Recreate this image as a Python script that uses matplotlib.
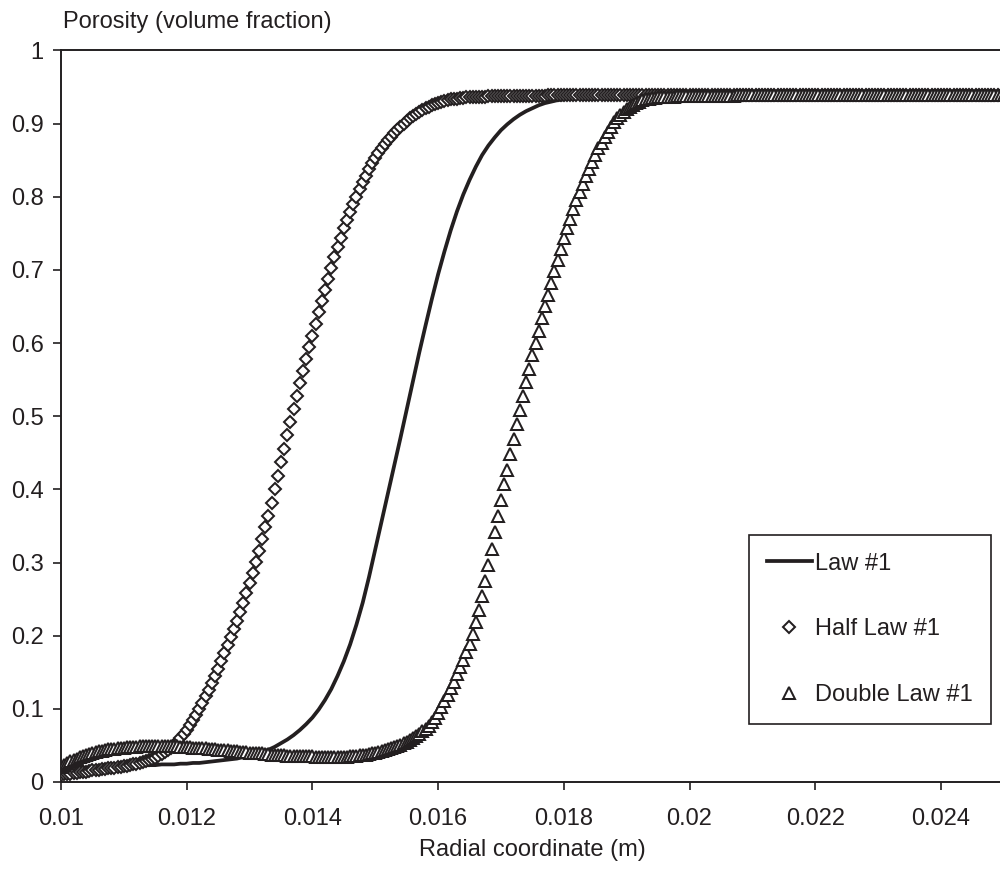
"""Porosity profiles along the radial coordinate for three sintering laws"""

import numpy as np
import matplotlib

matplotlib.use("Agg")
import matplotlib.pyplot as plt

INK = "#231f20"

# radial grid of the marker series (m), 0.01 .. 0.025 every 0.00005
radius = np.linspace(0.01, 0.025, 301)
# radial grid of the solid line (m), every 0.0001
radius_line = np.linspace(0.01, 0.025, 151)

law_1 = [
    0.016, 0.017, 0.018, 0.019, 0.019, 0.020, 0.020, 0.021, 0.021, 0.021,
    0.022, 0.022, 0.022, 0.023, 0.023, 0.023, 0.024, 0.024, 0.024, 0.025,
    0.025, 0.026, 0.026, 0.027, 0.028, 0.029, 0.030, 0.031, 0.032, 0.034,
    0.036, 0.038, 0.041, 0.044, 0.048, 0.053, 0.058, 0.064, 0.071, 0.079,
    0.088, 0.099, 0.112, 0.127, 0.145, 0.165, 0.188, 0.215, 0.245, 0.280,
    0.318, 0.356, 0.394, 0.432, 0.470, 0.509, 0.548, 0.587, 0.624, 0.660,
    0.694, 0.725, 0.754, 0.780, 0.803, 0.823, 0.841, 0.857, 0.870, 0.881,
    0.891, 0.899, 0.906, 0.912, 0.917, 0.921, 0.925, 0.928, 0.930, 0.932,
    0.933, 0.934, 0.935, 0.936, 0.936, 0.937, 0.937, 0.938, 0.938, 0.938,
    0.938, 0.938, 0.938, 0.938, 0.938, 0.939, 0.939, 0.939, 0.939, 0.939,
    0.939, 0.939, 0.939, 0.939, 0.939, 0.939, 0.939, 0.939, 0.939, 0.939,
    0.939, 0.939, 0.939, 0.939, 0.939, 0.939, 0.939, 0.939, 0.939, 0.939,
    0.939, 0.939, 0.939, 0.939, 0.939, 0.939, 0.939, 0.939, 0.939, 0.939,
    0.939, 0.939, 0.939, 0.939, 0.939, 0.939, 0.939, 0.939, 0.939, 0.939,
    0.939, 0.939, 0.939, 0.939, 0.939, 0.939, 0.939, 0.939, 0.939, 0.939,
    0.939,
]

half_law_1 = [
    0.010, 0.0105, 0.011, 0.0115, 0.012, 0.0125, 0.013, 0.0135, 0.014, 0.015,
    0.016, 0.0165, 0.017, 0.0175, 0.018, 0.0185, 0.019, 0.0195, 0.020, 0.021,
    0.022, 0.0225, 0.023, 0.024, 0.025, 0.026, 0.027, 0.0285, 0.030, 0.0315,
    0.033, 0.035, 0.038, 0.041, 0.044, 0.047, 0.051, 0.055, 0.060, 0.065,
    0.071, 0.078, 0.085, 0.092, 0.100, 0.108, 0.117, 0.126, 0.135, 0.145,
    0.155, 0.165, 0.176, 0.187, 0.198, 0.209, 0.220, 0.232, 0.245, 0.258,
    0.272, 0.286, 0.301, 0.316, 0.332, 0.348, 0.364, 0.382, 0.400, 0.418,
    0.437, 0.455, 0.474, 0.492, 0.510, 0.528, 0.545, 0.562, 0.578, 0.594,
    0.610, 0.626, 0.642, 0.658, 0.673, 0.688, 0.703, 0.717, 0.731, 0.744,
    0.757, 0.768, 0.779, 0.790, 0.800, 0.810, 0.820, 0.829, 0.838, 0.846,
    0.853, 0.860, 0.866, 0.872, 0.877, 0.882, 0.887, 0.891, 0.895, 0.899,
    0.903, 0.907, 0.910, 0.913, 0.916, 0.919, 0.921, 0.923, 0.925, 0.927,
    0.928, 0.930, 0.931, 0.932, 0.933, 0.934, 0.934, 0.935, 0.935, 0.936,
    0.936, 0.936, 0.937, 0.937, 0.937, 0.937, 0.938, 0.938, 0.938, 0.938,
    0.938, 0.938, 0.938, 0.938, 0.938, 0.938, 0.938, 0.938, 0.938, 0.938,
    0.938, 0.938, 0.938, 0.938, 0.938, 0.939, 0.939, 0.939, 0.939, 0.939,
    0.939, 0.939, 0.939, 0.939, 0.939, 0.939, 0.939, 0.939, 0.939, 0.939,
    0.939, 0.939, 0.939, 0.939, 0.939, 0.939, 0.939, 0.939, 0.939, 0.939,
    0.939, 0.939, 0.939, 0.939, 0.939, 0.939, 0.939, 0.939, 0.939, 0.939,
    0.939, 0.939, 0.939, 0.939, 0.939, 0.939, 0.939, 0.939, 0.939, 0.939,
    0.939, 0.939, 0.939, 0.939, 0.939, 0.939, 0.939, 0.939, 0.939, 0.939,
    0.939, 0.939, 0.939, 0.939, 0.939, 0.939, 0.939, 0.939, 0.939, 0.939,
    0.939, 0.939, 0.939, 0.939, 0.939, 0.939, 0.939, 0.939, 0.939, 0.939,
    0.939, 0.939, 0.939, 0.939, 0.939, 0.939, 0.939, 0.939, 0.939, 0.939,
    0.939, 0.939, 0.939, 0.939, 0.939, 0.939, 0.939, 0.939, 0.939, 0.939,
    0.939, 0.939, 0.939, 0.939, 0.939, 0.939, 0.939, 0.939, 0.939, 0.939,
    0.939, 0.939, 0.939, 0.939, 0.939, 0.939, 0.939, 0.939, 0.939, 0.939,
    0.939, 0.939, 0.939, 0.939, 0.939, 0.939, 0.939, 0.939, 0.939, 0.939,
    0.939, 0.939, 0.939, 0.939, 0.939, 0.939, 0.939, 0.939, 0.939, 0.939,
    0.939, 0.939, 0.939, 0.939, 0.939, 0.939, 0.939, 0.939, 0.939, 0.939,
    0.939,
]

double_law_1 = [
    0.020, 0.023, 0.026, 0.028, 0.030, 0.032, 0.034, 0.0355, 0.037, 0.0385,
    0.040, 0.041, 0.042, 0.043, 0.044, 0.0445, 0.045, 0.0455, 0.046, 0.0465,
    0.047, 0.0475, 0.048, 0.048, 0.048, 0.0485, 0.049, 0.049, 0.049, 0.049,
    0.049, 0.049, 0.049, 0.049, 0.049, 0.049, 0.049, 0.0485, 0.048, 0.048,
    0.048, 0.0475, 0.047, 0.047, 0.047, 0.0465, 0.046, 0.0455, 0.045, 0.0445,
    0.044, 0.044, 0.044, 0.0435, 0.043, 0.0425, 0.042, 0.0415, 0.041, 0.0405,
    0.040, 0.040, 0.040, 0.0395, 0.039, 0.0385, 0.038, 0.0375, 0.037, 0.037,
    0.037, 0.0365, 0.036, 0.036, 0.036, 0.0355, 0.035, 0.035, 0.035, 0.035,
    0.035, 0.0345, 0.034, 0.034, 0.034, 0.034, 0.034, 0.034, 0.034, 0.034,
    0.034, 0.0345, 0.035, 0.0355, 0.036, 0.0365, 0.037, 0.0375, 0.038, 0.039,
    0.040, 0.041, 0.042, 0.0435, 0.045, 0.0465, 0.048, 0.0495, 0.051, 0.053,
    0.055, 0.0575, 0.060, 0.063, 0.066, 0.069, 0.073, 0.077, 0.082, 0.088,
    0.094, 0.102, 0.110, 0.119, 0.128, 0.137, 0.147, 0.157, 0.167, 0.177,
    0.188, 0.202, 0.218, 0.235, 0.254, 0.275, 0.297, 0.319, 0.342, 0.364,
    0.386, 0.407, 0.427, 0.448, 0.469, 0.489, 0.509, 0.528, 0.547, 0.565,
    0.583, 0.600, 0.617, 0.634, 0.650, 0.666, 0.682, 0.698, 0.713, 0.728,
    0.743, 0.757, 0.770, 0.783, 0.795, 0.806, 0.817, 0.828, 0.838, 0.848,
    0.857, 0.866, 0.874, 0.882, 0.889, 0.896, 0.902, 0.907, 0.912, 0.916,
    0.920, 0.923, 0.926, 0.928, 0.930, 0.932, 0.933, 0.934, 0.935, 0.935,
    0.936, 0.936, 0.937, 0.937, 0.937, 0.937, 0.938, 0.938, 0.938, 0.938,
    0.938, 0.938, 0.938, 0.938, 0.938, 0.938, 0.938, 0.938, 0.938, 0.938,
    0.938, 0.938, 0.938, 0.938, 0.938, 0.939, 0.939, 0.939, 0.939, 0.939,
    0.939, 0.939, 0.939, 0.939, 0.939, 0.939, 0.939, 0.939, 0.939, 0.939,
    0.939, 0.939, 0.939, 0.939, 0.939, 0.939, 0.939, 0.939, 0.939, 0.939,
    0.939, 0.939, 0.939, 0.939, 0.939, 0.939, 0.939, 0.939, 0.939, 0.939,
    0.939, 0.939, 0.939, 0.939, 0.939, 0.939, 0.939, 0.939, 0.939, 0.939,
    0.939, 0.939, 0.939, 0.939, 0.939, 0.939, 0.939, 0.939, 0.939, 0.939,
    0.939, 0.939, 0.939, 0.939, 0.939, 0.939, 0.939, 0.939, 0.939, 0.939,
    0.939, 0.939, 0.939, 0.939, 0.939, 0.939, 0.939, 0.939, 0.939, 0.939,
    0.939, 0.939, 0.939, 0.939, 0.939, 0.939, 0.939, 0.939, 0.939, 0.939,
    0.939,
]

x_ticks = [0.01, 0.012, 0.014, 0.016, 0.018, 0.02, 0.022, 0.024]
x_tick_labels = ["0.01", "0.012", "0.014", "0.016", "0.018", "0.02", "0.022", "0.024"]
y_ticks = [0, 0.1, 0.2, 0.3, 0.4, 0.5, 0.6, 0.7, 0.8, 0.9, 1]
y_tick_labels = ["0", "0.1", "0.2", "0.3", "0.4", "0.5", "0.6", "0.7", "0.8", "0.9", "1"]


def main():
    assert len(law_1) == len(radius_line)
    assert len(half_law_1) == len(radius)
    assert len(double_law_1) == len(radius)

    plt.rcParams["font.family"] = ["Liberation Sans", "DejaVu Sans"]
    plt.rcParams["font.size"] = 17

    # section: figure
    fig = plt.figure(figsize=(10, 8.74), dpi=100)
    # right edge of the axes sits just past the picture border
    ax = fig.add_axes([0.061, 0.1053, 0.9428, 0.8370])

    # section: series
    ax.plot(radius_line, law_1, color=INK, lw=2.7, label="Law #1", zorder=2)
    ax.plot(radius, half_law_1, ls="none", marker="D", ms=6.2, mfc="white",
            mec=INK, mew=1.45, label="Half Law #1", zorder=3)
    ax.plot(radius, double_law_1, ls="none", marker="^", ms=8.6, mfc="white",
            mec=INK, mew=1.45, label="Double Law #1", zorder=4)

    # section: axes
    ax.set_xlim(0.01, 0.025)
    ax.set_ylim(0, 1)
    ax.set_xticks(x_ticks)
    ax.set_xticklabels(x_tick_labels)
    ax.set_yticks(y_ticks)
    ax.set_yticklabels(y_tick_labels)
    ax.tick_params(direction="out", length=5.5, width=1.2, color=INK,
                   labelcolor=INK, labelsize=17)
    ax.tick_params(axis="x", pad=13)
    ax.tick_params(axis="y", pad=7)
    for side in ("left", "bottom", "top"):
        ax.spines[side].set_linewidth(1.4)
        ax.spines[side].set_color(INK)
    ax.spines["right"].set_visible(False)

    ax.set_xlabel("Radial coordinate (m)", color=INK, fontsize=17, labelpad=7)
    fig.text(0.063, 0.9748, "Porosity (volume fraction)", color=INK,
             fontsize=17, ha="left", va="center")

    # section: legend
    leg = ax.legend(loc="upper left", bbox_to_anchor=(0.7298, 0.3377),
                    borderaxespad=0, frameon=True, fancybox=False,
                    edgecolor=INK, framealpha=1, fontsize=17, numpoints=1,
                    handlelength=1.9, handletextpad=0.15, borderpad=0.75,
                    labelspacing=1.85)
    leg.get_frame().set_linewidth(1.2)
    for text in leg.get_texts():
        text.set_color(INK)

    fig.savefig("out.png", dpi=100)
    plt.close(fig)


if __name__ == "__main__":
    main()
